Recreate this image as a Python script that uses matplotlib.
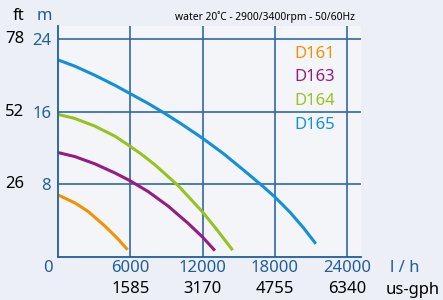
import matplotlib
matplotlib.use("Agg")
import matplotlib.pyplot as plt

# curve data, flow in l/h, head in m
d161_q = [0, 1410, 2515, 3900, 5005, 5780]
d161_h = [6.83, 5.95, 5.0, 3.4, 1.95, 0.8]

d163_q = [0, 1410, 3070, 4730, 5975, 7490, 9150, 10810, 12000, 13030]
d163_h = [11.5, 11.05, 10.25, 9.25, 8.4, 7.2, 5.6, 3.7, 2.2, 0.7]

d164_q = [0, 1410, 3070, 4730, 5975, 6945, 8050, 9985, 11975, 13170, 14500]
d164_h = [15.7, 15.25, 14.4, 13.3, 12.2, 11.3, 10.15, 7.85, 5.0, 3.05, 0.75]

d165_q = [0, 1410, 3070, 4730, 5975, 7490, 8880, 10125, 11975, 13720,
          15380, 17040, 18010, 19250, 20360, 21410]
d165_h = [21.7, 21.0, 20.0, 18.9, 18.0, 16.9, 15.8, 14.75, 13.1, 11.4,
          9.6, 7.75, 6.6, 4.95, 3.25, 1.45]

series = [("D161", d161_q, d161_h, "#f39200"),
          ("D163", d163_q, d163_h, "#961b82"),
          ("D164", d164_q, d164_h, "#98c21d"),
          ("D165", d165_q, d165_h, "#1290d8")]

x_ticks = [6000, 12000, 18000, 24000]
x_gph = ["1585", "3170", "4755", "6340"]
y_ticks = [8, 16, 24]
y_ft = ["26", "52", "78"]

axis_blue = "#1f5e9e"
grid_blue = "#2f68a8"

plt.rcParams['font.family'] = ['Noto Sans', 'DejaVu Sans']

fig = plt.figure(figsize=(4.43, 3.0), dpi=100, facecolor="#eceff5")
ax = fig.add_axes([58/443, 1 - 257/300, 303/443, 231/300])
ax.set_facecolor("#f4f5f9")

for name, q, h, c in series:
    ax.plot(q, h, color=c, lw=2.2, solid_capstyle="butt", solid_joinstyle="round")

ax.set_xlim(0, 25160)
ax.set_ylim(0, 25.43)

ax.set_xticks(x_ticks)
ax.set_yticks(y_ticks)
ax.set_xticklabels([str(v) for v in x_ticks], color=axis_blue, fontsize=12)
ax.set_yticklabels([str(v) for v in y_ticks], color=axis_blue, fontsize=12)
ax.tick_params(length=0, pad=2)
ax.tick_params(axis="y", pad=5)
ax.grid(True, color=grid_blue, lw=1.2)
ax.set_axisbelow(True)

for s in ["top", "right"]:
    ax.spines[s].set_visible(False)
for s in ["left", "bottom"]:
    ax.spines[s].set_color(axis_blue)
    ax.spines[s].set_linewidth(1.3)

# secondary labels (ft and us-gph)
xt = ax.get_xaxis_transform()
yt = ax.get_yaxis_transform()
for v, lab in zip(x_ticks, x_gph):
    ax.text(v, -0.14, lab, transform=xt, ha="center", va="center",
            fontsize=12, color="black")
for v, lab in zip(y_ticks, y_ft):
    ax.text(-0.112, v, lab, transform=yt, ha="right", va="center",
            fontsize=12, color="black")

fig.text(48/443, 1 - 268/300, "0", ha="center", va="center",
         fontsize=12, color=axis_blue)
fig.text(405/443, 1 - 268/300, "l / h", ha="center", va="center",
         fontsize=12, color=axis_blue)
fig.text(413/443, 1 - 290/300, "us-gph", ha="center", va="center",
         fontsize=12, color="black")
fig.text(19/443, 1 - 16/300, "ft", ha="center", va="center",
         fontsize=12, color="black")
fig.text(44/443, 1 - 16/300, "m", ha="center", va="center",
         fontsize=12, color=axis_blue)
fig.text(265/443, 1 - 17/300, "water 20˚C - 2900/3400rpm - 50/60Hz",
         ha="center", va="center", fontsize=7.4, color="black")

# series names
for (name, q, h, c), yp in zip(series, [54, 77, 101, 125]):
    fig.text(294/443, 1 - yp/300, name, ha="left", va="center",
             fontsize=12, color=c)

fig.savefig("out.png", dpi=100, facecolor=fig.get_facecolor())
